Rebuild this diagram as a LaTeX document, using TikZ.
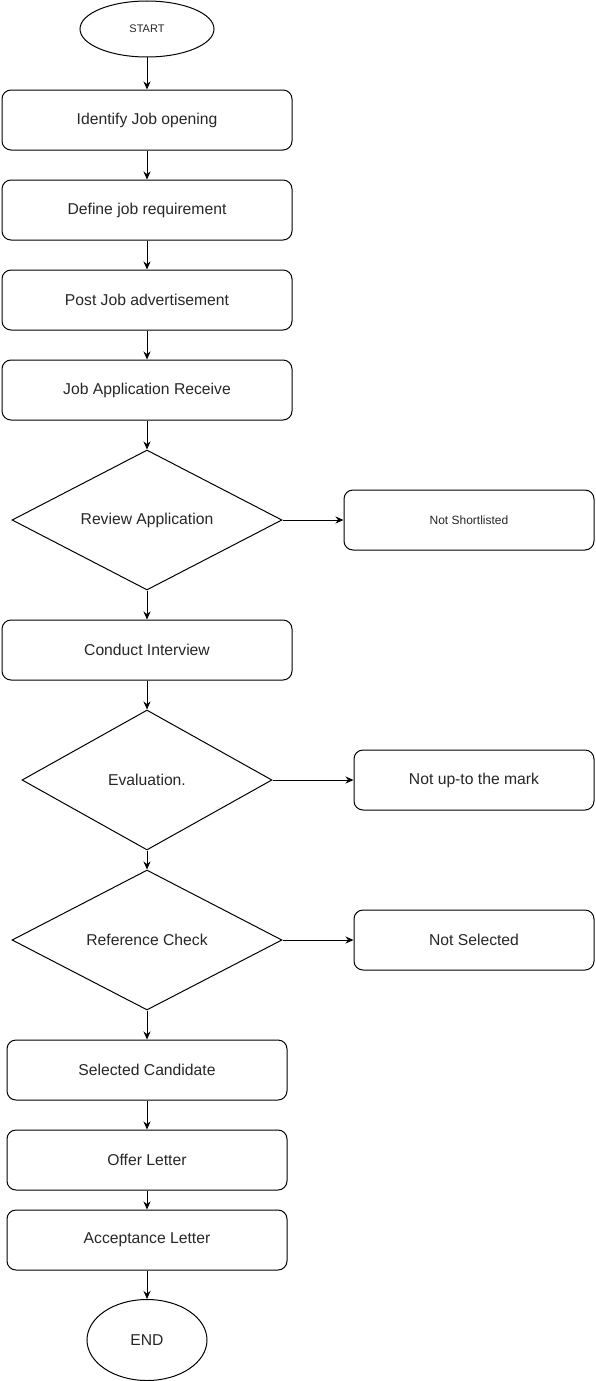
\documentclass[tikz,border=0pt]{standalone}
\usepackage{fontspec}
\setmainfont{Liberation Sans}
\usetikzlibrary{shapes.geometric,arrows.meta}
\begin{document}
\begin{tikzpicture}[x=1pt,y=-1pt,
  every node/.style={font=\fontsize{15.7}{18}\selectfont, text=black!85},
  box/.style={draw, line width=1pt, rounded corners=9pt, minimum width=290pt, minimum height=60pt, inner sep=0pt},
  sidebox/.style={draw, line width=1pt, rounded corners=9pt, minimum width=240pt, minimum height=60pt, inner sep=0pt},
  dec/.style={draw, line width=1pt, diamond, aspect=2, minimum width=270pt, minimum height=140pt, inner sep=0pt},
  oval/.style={draw, line width=1pt, ellipse, inner sep=0pt},
  arr/.style={line width=1pt, -{Stealth[length=8pt,width=7pt]}}
]
\useasboundingbox (0,0) rectangle (595,1381);
\node[oval, minimum width=134pt, minimum height=56pt, font=\fontsize{11}{13}\selectfont] (start) at (147,29) {START};
\node[box] (b1) at (147,120) {Identify Job opening};
\node[box] (b2) at (147,210) {Define job requirement};
\node[box] (b3) at (147,300) {Post Job advertisement};
\node[box] (b4) at (147,390) {Job Application Receive};
\node[dec] (d1) at (147,520) {Review Application};
\node[draw, line width=1pt, rounded corners=9pt, minimum width=250pt, minimum height=60pt, inner sep=0pt, font=\fontsize{12}{14}\selectfont] (n1) at (469,520) {Not Shortlisted};
\node[box] (b5) at (147,650) {Conduct Interview};
\node[dec, minimum width=250pt] (d2) at (147,780) {Evaluation.};
\node[sidebox] (n2) at (474,780) {Not up-to the mark};
\node[dec] (d3) at (147,940) {Reference Check};
\node[sidebox] (n3) at (474,940) {Not Selected};
\node[box, minimum width=280pt] (b6) at (147,1070) {Selected Candidate};
\node[box, minimum width=280pt] (b7) at (147,1160) {Offer Letter};
\node[box, minimum width=280pt] (b8) at (147,1240) {Acceptance Letter};
\node[oval, minimum width=120pt, minimum height=81pt] (end) at (147,1340) {END};
\draw[arr] (start) -- (b1);
\draw[arr] (b1) -- (b2);
\draw[arr] (b2) -- (b3);
\draw[arr] (b3) -- (b4);
\draw[arr] (b4) -- (d1);
\draw[arr] (d1) -- (n1);
\draw[arr] (d1) -- (b5);
\draw[arr] (b5) -- (d2);
\draw[arr] (d2) -- (n2);
\draw[arr] (d2) -- (d3);
\draw[arr] (d3) -- (n3);
\draw[arr] (d3) -- (b6);
\draw[arr] (b6) -- (b7);
\draw[arr] (b7) -- (b8);
\draw[arr] (b8) -- (end);
\end{tikzpicture}
\end{document}
